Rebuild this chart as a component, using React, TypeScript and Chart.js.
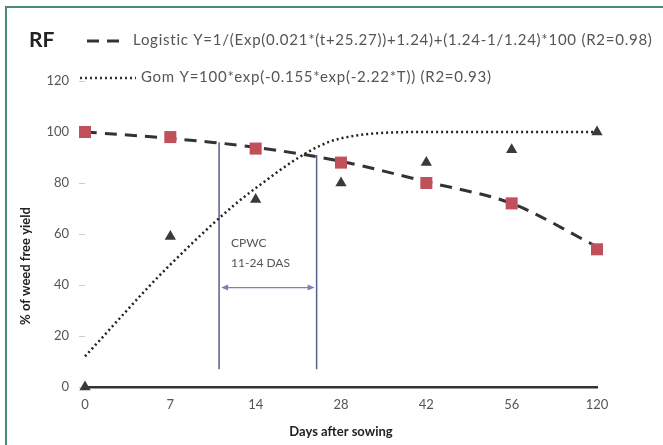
import React, { useEffect, useRef } from 'react';
import { Chart, registerables } from 'chart.js';

Chart.register(...registerables);

// ---- data ----
const DAY_LABELS = ['0', '7', '14', '28', '42', '56', '120'];
const DAY_VALUES = [0, 7, 14, 28, 42, 56, 120];
const OBSERVED_SQUARES = [100, 98, 93.5, 88, 80, 72, 54];
const OBSERVED_TRIANGLES = [0, 59, 73.5, 80, 88, 93, 100];
const LOGISTIC_FIT = [100, 97.5, 94, 88.5, 80.5, 72, 55];
const GOMPERTZ_FIT = [12, 48, 78, 97.5, 100, 100, 100];
const Y_MIN = 0;
const Y_MAX = 120;
const Y_STEP = 20;

const PANEL_LABEL = 'RF';
const LEGEND_LOGISTIC = 'Logistic Y=1/(Exp(0.021*(t+25.27))+1.24)+(1.24-1/1.24)*100 (R2=0.98)';
const LEGEND_GOMPERTZ = 'Gom Y=100*exp(-0.155*exp(-2.22*T)) (R2=0.93)';
const X_TITLE = 'Days after sowing';
const Y_TITLE = '% of weed free yield';

const CPWC_START_DAY = 11;
const CPWC_END_DAY = 24;
const CPWC_START_TOP = 96;
const CPWC_END_TOP = 91;
const CPWC_BOTTOM = 7;
const CPWC_ARROW_LEVEL = 39;
const CPWC_TEXT = ['CPWC', '11-24 DAS'];
const CPWC_TEXT_LEVELS = [56.5, 48.5];

const FONT = 'Lato, "Open Sans", "DejaVu Sans", sans-serif';

function dayToIndex(d: number): number {
  for (let i = 0; i < DAY_VALUES.length - 1; i++) {
    const a = DAY_VALUES[i];
    const b = DAY_VALUES[i + 1];
    if (d >= a && d <= b) return i + (d - a) / (b - a);
  }
  return DAY_VALUES.length - 1;
}

const decorPlugin = {
  id: 'decor',
  beforeDraw(chart: any) {
    const ctx = chart.ctx;
    ctx.save();
    ctx.fillStyle = '#ffffff';
    ctx.fillRect(0, 0, chart.width, chart.height);
    ctx.strokeStyle = '#4b8b6e';
    ctx.lineWidth = 2;
    ctx.beginPath();
    ctx.moveTo(6, chart.height);
    ctx.lineTo(6, 7);
    ctx.lineTo(chart.width, 7);
    ctx.stroke();
    ctx.restore();
  },
  beforeDatasetsDraw(chart: any) {
    const ctx = chart.ctx;
    const xs = chart.scales.x;
    const ys = chart.scales.y;
    const x1 = xs.getPixelForValue(dayToIndex(CPWC_START_DAY));
    const x2 = xs.getPixelForValue(dayToIndex(CPWC_END_DAY));
    ctx.save();
    ctx.strokeStyle = '#55608a';
    ctx.lineWidth = 1.5;
    ctx.beginPath();
    ctx.moveTo(x1, ys.getPixelForValue(CPWC_START_TOP));
    ctx.lineTo(x1, ys.getPixelForValue(CPWC_BOTTOM));
    ctx.moveTo(x2, ys.getPixelForValue(CPWC_END_TOP));
    ctx.lineTo(x2, ys.getPixelForValue(CPWC_BOTTOM));
    ctx.stroke();
    // double arrow
    const ay = ys.getPixelForValue(CPWC_ARROW_LEVEL);
    const ax1 = x1 + 2;
    const ax2 = x2 - 2;
    ctx.strokeStyle = '#7a84b0';
    ctx.fillStyle = '#7a84b0';
    ctx.lineWidth = 1.2;
    ctx.beginPath();
    ctx.moveTo(ax1 + 5, ay);
    ctx.lineTo(ax2 - 5, ay);
    ctx.stroke();
    ctx.beginPath();
    ctx.moveTo(ax1, ay);
    ctx.lineTo(ax1 + 7, ay - 3);
    ctx.lineTo(ax1 + 7, ay + 3);
    ctx.closePath();
    ctx.fill();
    ctx.beginPath();
    ctx.moveTo(ax2, ay);
    ctx.lineTo(ax2 - 7, ay - 3);
    ctx.lineTo(ax2 - 7, ay + 3);
    ctx.closePath();
    ctx.fill();
    // text
    ctx.fillStyle = '#555';
    ctx.font = `12px ${FONT}`;
    ctx.textAlign = 'left';
    ctx.textBaseline = 'middle';
    CPWC_TEXT.forEach((t, i) => {
      ctx.fillText(t, x1 + 12, ys.getPixelForValue(CPWC_TEXT_LEVELS[i]));
    });
    ctx.restore();
  },
  afterDraw(chart: any) {
    const ctx = chart.ctx;
    ctx.save();
    // panel label
    ctx.fillStyle = '#222';
    ctx.font = `bold 21px ${FONT}`;
    ctx.textAlign = 'left';
    ctx.textBaseline = 'middle';
    ctx.fillText(PANEL_LABEL, 29, 40);
    // legend row 1 (dashed)
    ctx.strokeStyle = '#333';
    ctx.lineWidth = 3;
    ctx.setLineDash([12, 8]);
    ctx.beginPath();
    ctx.moveTo(87, 41);
    ctx.lineTo(126, 41);
    ctx.stroke();
    ctx.setLineDash([]);
    ctx.fillStyle = '#555';
    ctx.font = `15px ${FONT}`;
    (ctx as any).letterSpacing = '0.75px';
    ctx.fillText(LEGEND_LOGISTIC, 133, 40);
    // legend row 2 (dotted)
    ctx.lineWidth = 2.5;
    ctx.setLineDash([2, 3]);
    ctx.beginPath();
    ctx.moveTo(80, 78);
    ctx.lineTo(136, 78);
    ctx.stroke();
    ctx.setLineDash([]);
    ctx.fillText(LEGEND_GOMPERTZ, 141, 77);
    (ctx as any).letterSpacing = '0px';
    // y title
    ctx.translate(26, 266);
    ctx.rotate(-Math.PI / 2);
    ctx.fillStyle = '#222';
    ctx.font = `bold 13px ${FONT}`;
    ctx.textAlign = 'center';
    ctx.fillText(Y_TITLE, 0, 0);
    ctx.restore();
  },
};

export default function App() {
  const canvasRef = useRef<HTMLCanvasElement | null>(null);

  useEffect(() => {
    document.body.style.margin = '0';
    const canvas = canvasRef.current;
    if (!canvas) return;
    const chart = new Chart(canvas, {
      type: 'line',
      data: {
        labels: DAY_LABELS,
        datasets: [
          {
            label: 'Logistic',
            data: LOGISTIC_FIT,
            borderColor: '#333',
            borderWidth: 3,
            borderDash: [12, 8],
            pointRadius: 0,
            tension: 0.3,
            fill: false,
            order: 3,
            clip: false,
          },
          {
            label: 'Gompertz',
            data: GOMPERTZ_FIT,
            borderColor: '#222',
            borderWidth: 2.5,
            borderDash: [2, 3],
            pointRadius: 0,
            cubicInterpolationMode: 'monotone',
            fill: false,
            order: 4,
            clip: false,
          },
          {
            label: 'Observed (square)',
            data: OBSERVED_SQUARES,
            showLine: false,
            pointStyle: 'rect',
            pointRadius: 8.5,
            pointBackgroundColor: '#c0505a',
            pointBorderColor: '#c0505a',
            pointBorderWidth: 0,
            order: 1,
            clip: false,
          },
          {
            label: 'Observed (triangle)',
            data: OBSERVED_TRIANGLES,
            showLine: false,
            pointStyle: 'triangle',
            pointRadius: 6.5,
            pointBackgroundColor: '#3a3a3a',
            pointBorderColor: '#3a3a3a',
            pointBorderWidth: 0,
            order: 2,
            clip: false,
          },
        ],
      },
      options: {
        responsive: false,
        animation: false,
        events: [],
        layout: { padding: { top: 81, right: 66, left: 0, bottom: 0 } },
        plugins: {
          legend: { display: false },
          tooltip: { enabled: false },
          title: { display: false },
        },
        scales: {
          x: {
            type: 'category',
            offset: false,
            grid: { display: false, drawTicks: false },
            border: { display: true, color: '#333', width: 2.5 },
            ticks: {
              color: '#555',
              font: { family: FONT, size: 13 },
              padding: 10,
              maxRotation: 0,
              autoSkip: false,
            },
            title: {
              display: true,
              text: X_TITLE,
              color: '#222',
              font: { family: FONT, size: 13, weight: 'bold' },
              padding: { top: 4, bottom: 5 },
            },
            afterFit(scale: any) {
              scale.height = 58;
            },
          },
          y: {
            min: Y_MIN,
            max: Y_MAX,
            grid: { display: true, drawOnChartArea: false, drawTicks: true, tickLength: 6, color: '#cccccc' },
            border: { display: false },
            ticks: {
              stepSize: Y_STEP,
              color: '#555',
              font: { family: FONT, size: 13 },
              padding: 10,
            },
            afterFit(scale: any) {
              scale.width = 85;
            },
          },
        },
      },
      plugins: [decorPlugin],
    } as any);
    return () => chart.destroy();
  }, []);

  return (
    <div style={{ width: 663, height: 445, position: 'relative' }}>
      <canvas ref={canvasRef} width={663} height={445} style={{ display: 'block' }} />
    </div>
  );
}
